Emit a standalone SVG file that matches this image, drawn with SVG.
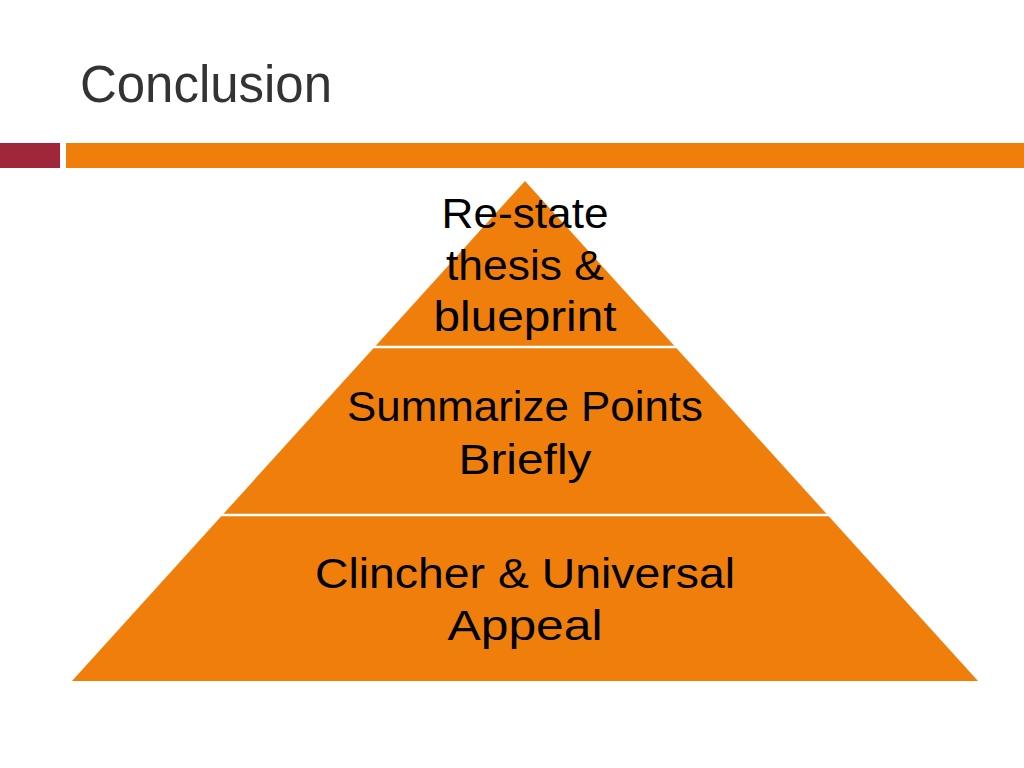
<svg xmlns="http://www.w3.org/2000/svg" width="1024" height="768" viewBox="0 0 1024 768">
<style>
.t{font-family:"Liberation Sans",Arial,sans-serif;font-size:42px;fill:#000;text-anchor:middle}
.tier{fill:#EF7F0A}
.sep{stroke:#fff;stroke-width:2.5}
</style>
<rect width="1024" height="768" fill="#fff"/>
<text x="80" y="102" font-family="'Liberation Sans',Arial,sans-serif" font-size="51" fill="#333" textLength="252" lengthAdjust="spacingAndGlyphs">Conclusion</text>
<rect x="0" y="143" width="60" height="25" fill="#A0273A"/>
<rect x="66" y="143" width="958" height="25" fill="#EF7F0A"/>
<g id="tier1">
<polygon class="tier" points="525,181 374.6,347 675.4,347"/>
<text class="t" x="525" y="228" textLength="167" lengthAdjust="spacingAndGlyphs">Re-state</text>
<text class="t" x="525" y="280" textLength="158" lengthAdjust="spacingAndGlyphs">thesis &amp;</text>
<text class="t" x="525" y="331" textLength="183" lengthAdjust="spacingAndGlyphs">blueprint</text>
</g>
<g id="tier2">
<polygon class="tier" points="374.6,347 675.4,347 827.6,515 222.4,515"/>
<text class="t" x="525" y="421" textLength="356" lengthAdjust="spacingAndGlyphs">Summarize Points</text>
<text class="t" x="525" y="474" textLength="133" lengthAdjust="spacingAndGlyphs">Briefly</text>
</g>
<g id="tier3">
<polygon class="tier" points="222.4,515 827.6,515 978,681 72,681"/>
<text class="t" x="525" y="588" textLength="420" lengthAdjust="spacingAndGlyphs">Clincher &amp; Universal</text>
<text class="t" x="525" y="640" textLength="155" lengthAdjust="spacingAndGlyphs">Appeal</text>
</g>
<g id="connectors">
<line class="sep" x1="370" y1="347" x2="680" y2="347"/>
<line class="sep" x1="218" y1="515" x2="832" y2="515"/>
</g>
</svg>
